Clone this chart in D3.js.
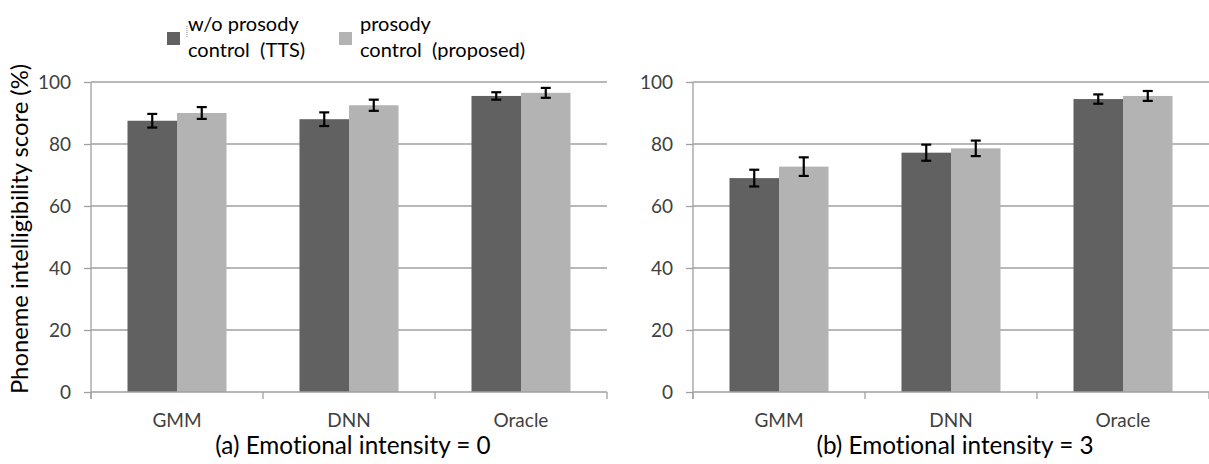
<!DOCTYPE html>
<html>
<head>
<meta charset="utf-8">
<script src="https://cdn.jsdelivr.net/npm/d3@7"></script>
<style>
  body { margin: 0; background: #fff; }
  svg { display: block; }
  text { font-family: Lato, "Open Sans", sans-serif; font-variant-ligatures: none; font-feature-settings: "liga" 0, "clig" 0, "dlig" 0; }
</style>
</head>
<body>
<svg id="chart" width="1209" height="464"></svg>
<script>
// ---- data ----
const categories = ["GMM", "DNN", "Oracle"];
const seriesKeys = ["tts", "proposed"];
const legendLines = [["w/o prosody", "control  (TTS)"], ["prosody", "control  (proposed)"]];
const yTicks = [0, 20, 40, 60, 80, 100];
const captions = ["(a) Emotional intensity = 0", "(b) Emotional intensity = 3"];
const yTitle = "Phoneme intelligibility score (%)";

// Emotional intensity = 0
const ttsScore0 = [87.5, 88.0, 95.5];
const proposedScore0 = [90.0, 92.5, 96.5];
const ttsErr0 = [2.2, 2.2, 1.2];
const proposedErr0 = [1.9, 1.8, 1.6];

// Emotional intensity = 3
const ttsScore3 = [69.0, 77.2, 94.5];
const proposedScore3 = [72.7, 78.6, 95.5];
const ttsErr3 = [2.7, 2.6, 1.5];
const proposedErr3 = [3.0, 2.5, 1.6];

// ---- styling ----
const colors = { tts: "#616161", proposed: "#b3b3b3" };
const gridColor = "#a0a0a0";
const tickTextColor = "#404040";

const svg = d3.select("#chart");

const y = d3.scaleLinear().domain([0, 100]).range([392, 82]);

function panel(x0, x1, tts, prop, ttsErr, propErr, caption) {
  const g = svg.append("g");
  const x = d3.scaleBand().domain(categories).range([x0, x1]).padding(0);
  const xs = d3.scaleBand().domain(seriesKeys).range([0, x.bandwidth()])
    .paddingInner(0).paddingOuter(0.737);

  // gridlines
  g.append("g").selectAll("line").data(yTicks.filter(d => d > 0)).join("line")
    .attr("x1", x0).attr("x2", x1)
    .attr("y1", d => y(d)).attr("y2", d => y(d))
    .attr("stroke", gridColor).attr("stroke-width", 1.3);

  // y axis
  const ya = g.append("g").attr("transform", `translate(${x0},0)`)
    .call(d3.axisLeft(y).tickValues(yTicks).tickSize(7).tickSizeOuter(0).tickPadding(13));
  ya.select(".domain").remove();
  ya.selectAll(".tick line").attr("stroke", gridColor).attr("stroke-width", 1.3);
  ya.selectAll(".tick text").attr("fill", tickTextColor)
    .style("font-family", "Lato, sans-serif").style("font-size", "19px");
  g.append("line").attr("x1", x0).attr("x2", x0).attr("y1", y(100)).attr("y2", y(0) + 7)
    .attr("stroke", gridColor).attr("stroke-width", 1.3);

  // bars
  const rows = categories.map((c, i) => ({
    cat: c,
    vals: [
      { key: "tts", v: tts[i], e: ttsErr[i] },
      { key: "proposed", v: prop[i], e: propErr[i] }
    ]
  }));
  const grp = g.append("g").selectAll("g").data(rows).join("g")
    .attr("transform", d => `translate(${x(d.cat)},0)`);
  grp.selectAll("rect").data(d => d.vals).join("rect")
    .attr("x", d => xs(d.key)).attr("width", xs.bandwidth())
    .attr("y", d => y(d.v)).attr("height", d => y(0) - y(d.v))
    .attr("fill", d => colors[d.key]);

  // error bars
  const eb = grp.selectAll("g.err").data(d => d.vals).join("g").attr("class", "err")
    .attr("transform", d => `translate(${xs(d.key) + xs.bandwidth() / 2},0)`)
    .attr("stroke", "#000").attr("stroke-width", 2.2);
  eb.append("line").attr("y1", d => y(d.v + d.e)).attr("y2", d => y(d.v - d.e));
  eb.append("line").attr("x1", -5).attr("x2", 5).attr("y1", d => y(d.v + d.e)).attr("y2", d => y(d.v + d.e));
  eb.append("line").attr("x1", -5).attr("x2", 5).attr("y1", d => y(d.v - d.e)).attr("y2", d => y(d.v - d.e));

  // x axis
  g.append("line").attr("x1", x0).attr("x2", x1).attr("y1", y(0)).attr("y2", y(0))
    .attr("stroke", gridColor).attr("stroke-width", 1.3);
  const edges = categories.map(c => x(c)).concat([x1]);
  g.append("g").selectAll("line").data(edges).join("line")
    .attr("x1", d => d).attr("x2", d => d).attr("y1", y(0)).attr("y2", y(0) + 7)
    .attr("stroke", gridColor).attr("stroke-width", 1.3);
  g.append("g").selectAll("text").data(categories).join("text")
    .attr("x", d => x(d) + x.bandwidth() / 2).attr("y", 427)
    .attr("text-anchor", "middle").attr("fill", tickTextColor)
    .style("font-size", "19px").text(d => d);

  // caption
  g.append("text").attr("x", (x0 + x1) / 2 + 4).attr("y", 454)
    .attr("text-anchor", "middle").attr("fill", "#000")
    .style("font-size", "24.3px").text(caption);
}

panel(91, 607, ttsScore0, proposedScore0, ttsErr0, proposedErr0, captions[0]);
panel(693, 1209, ttsScore3, proposedScore3, ttsErr3, proposedErr3, captions[1]);

// y-axis title
svg.append("text")
  .attr("transform", "translate(28,229) rotate(-90)")
  .attr("text-anchor", "middle").attr("fill", "#000")
  .style("font-size", "23.8px").text(yTitle);

// legend
const legendX = [167, 339];
const lg = svg.append("g").selectAll("g").data(seriesKeys).join("g")
  .attr("transform", (d, i) => `translate(${legendX[i]},0)`);
lg.append("rect").attr("x", 0).attr("y", 32).attr("width", 13).attr("height", 13)
  .attr("fill", d => colors[d]);
lg.append("text").attr("x", 21).attr("y", 31)
  .style("font-size", "20px").attr("fill", "#000").attr("xml:space", "preserve")
  .selectAll("tspan").data((d, i) => legendLines[i]).join("tspan")
  .attr("x", 21).attr("dy", (d, j) => j === 0 ? 0 : 26)
  .style("white-space", "pre").text(d => d);
// stray text-cursor mark beside the first legend entry
svg.append("line").attr("x1", 187).attr("x2", 187).attr("y1", 26).attr("y2", 38)
  .attr("stroke", "#888").attr("stroke-width", 1).attr("stroke-dasharray", "1,1");
</script>
</body>
</html>
